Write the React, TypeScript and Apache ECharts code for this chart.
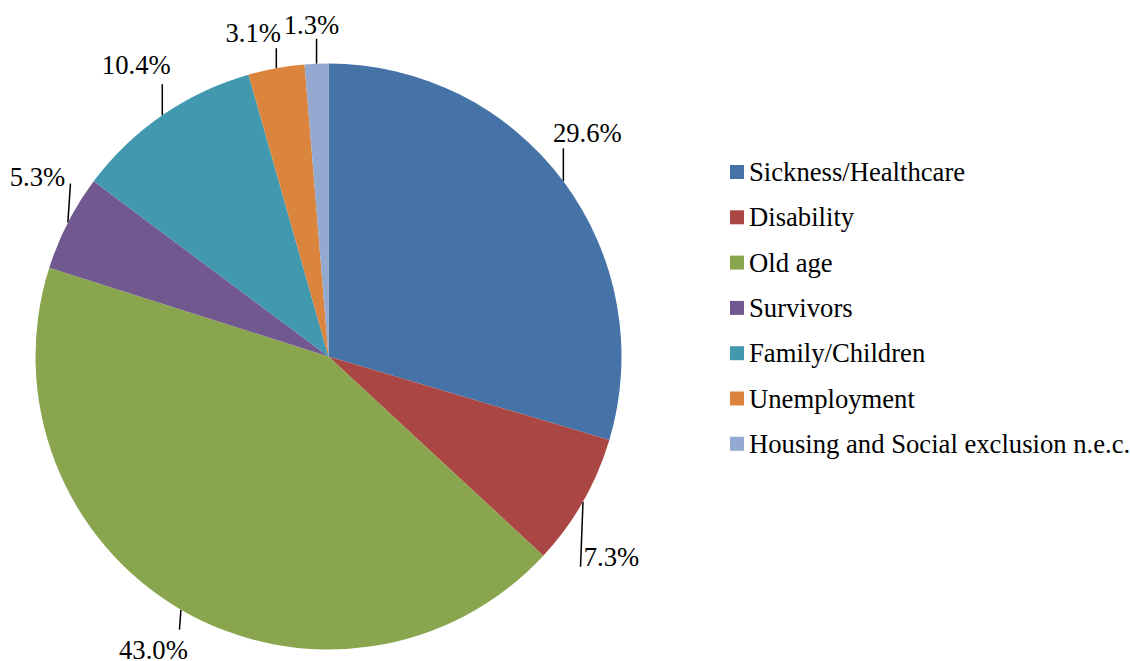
import React, { useEffect, useRef } from "react";
import * as echarts from "echarts";

const categories = [
  "Sickness/Healthcare",
  "Disability",
  "Old age",
  "Survivors",
  "Family/Children",
  "Unemployment",
  "Housing and Social exclusion n.e.c.",
];
const values = [29.6, 7.3, 43.0, 5.3, 10.4, 3.1, 1.3];
const colors = ["#4572A7", "#AA4643", "#89A54E", "#71588F", "#4198AF", "#DB843D", "#93A9CF"];

// leader-line end offset from slice edge, and label centre offset from line end (style only)
const leaderOffsets = [
  [0, -33, 24, -15],
  [-2.5, 65, 31, -10],
  [-1.5, 20, -26, 20],
  [2.6, -39, -33, -7],
  [0, -31, -26, -19],
  [0, -20, -23, -15],
  [0, -25, -5, -14],
];

const CX = 328.5;
const CY = 356.5;
const R = 293;
const FONT = "Liberation Serif";
const FONT_SIZE = 26.67;

export default function App() {
  const ref = useRef<HTMLDivElement>(null);
  useEffect(() => {
    if (!ref.current) return;
    const chart = echarts.init(ref.current, undefined, { renderer: "svg" });
    const total = values.reduce((a, b) => a + b, 0);
    const mids: number[] = [];
    let acc = 0;
    values.forEach((v) => {
      mids.push(((acc + v / 2) / total) * Math.PI * 2);
      acc += v;
    });
    chart.setOption({
      animation: false,
      backgroundColor: "#ffffff",
      textStyle: { fontFamily: FONT },
      legend: {
        orient: "vertical",
        left: 730,
        top: 157,
        padding: 0,
        itemWidth: 14,
        itemHeight: 14,
        itemGap: 15.3,
        icon: "rect",
        textStyle: { fontFamily: FONT, fontSize: FONT_SIZE, color: "#000", lineHeight: 30 },
        data: categories,
      },
      series: [
        {
          type: "pie",
          center: [CX, CY],
          radius: R,
          startAngle: 90,
          clockwise: true,
          avoidLabelOverlap: false,
          itemStyle: { borderWidth: 0 },
          emphasis: { disabled: true },
          label: {
            show: true,
            position: "outside",
            fontFamily: FONT,
            fontSize: FONT_SIZE,
            color: "#000",
            formatter: (p: any) => `${Number(p.value).toFixed(1)}%`,
          },
          labelLine: { show: true, length: 10, length2: 0, lineStyle: { color: "#000", width: 1.5 } },
          labelLayout: (params: any) => {
            const i = params.dataIndex;
            const a = mids[i];
            const ex = CX + R * Math.sin(a);
            const ey = CY - R * Math.cos(a);
            const o = leaderOffsets[i];
            const lx = ex + o[0];
            const ly = ey + o[1];
            return {
              x: lx + o[2],
              y: ly + o[3],
              align: "center",
              verticalAlign: "middle",
              labelLinePoints: [
                [ex, ey],
                [(ex + lx) / 2, (ey + ly) / 2],
                [lx, ly],
              ],
            };
          },
          data: categories.map((name, i) => ({ name, value: values[i], itemStyle: { color: colors[i] } })),
        },
      ],
    });
    return () => chart.dispose();
  }, []);
  return (
    <div
      ref={ref}
      style={{ position: "fixed", left: 0, top: 0, width: 1130, height: 661, background: "#fff" }}
    />
  );
}
